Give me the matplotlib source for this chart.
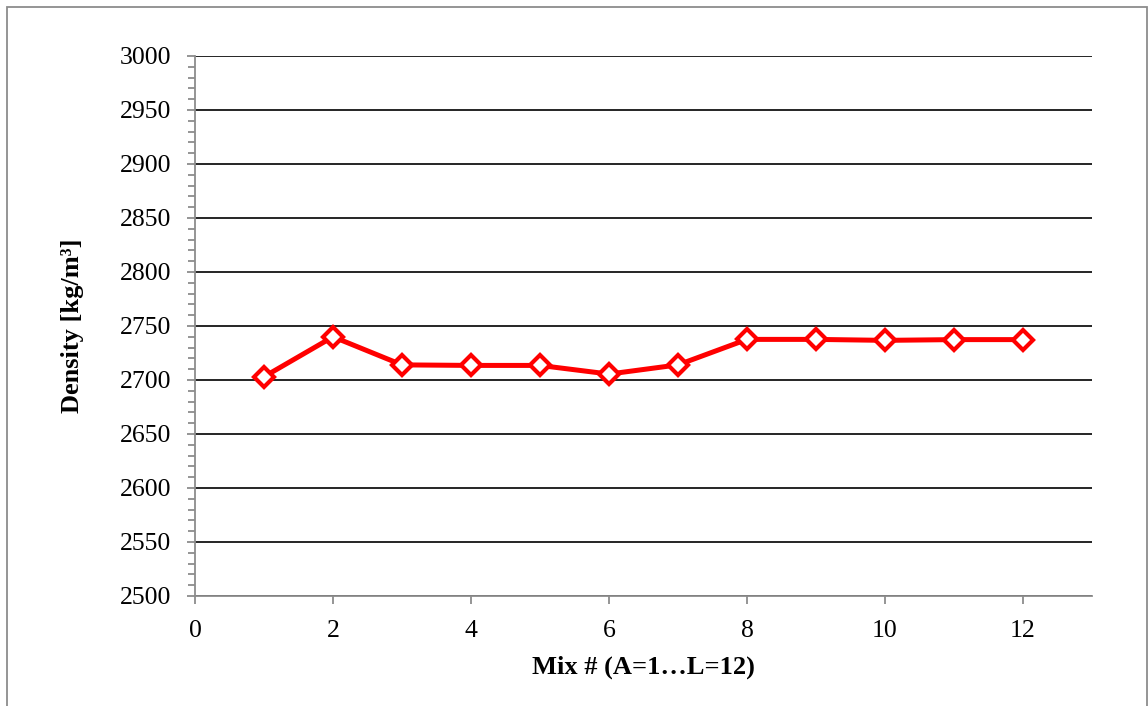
import numpy as np
import matplotlib.pyplot as plt
from matplotlib.ticker import MultipleLocator
from matplotlib.patches import Rectangle

# Density of each mix
mix = [1, 2, 3, 4, 5, 6, 7, 8, 9, 10, 11, 12]
density = [2703, 2740, 2714, 2713.5, 2713.5, 2705.5, 2714, 2737.6, 2737.6, 2736.7, 2737.4, 2737.4]

x_ticks = [0, 2, 4, 6, 8, 10, 12]
y_ticks = [2500, 2550, 2600, 2650, 2700, 2750, 2800, 2850, 2900, 2950, 3000]

plt.rcParams['font.family'] = ['Liberation Serif', 'DejaVu Serif']

fig = plt.figure(figsize=(11.48, 7.06), dpi=100)
ax = fig.add_axes([195/1148, 1 - 596/706, (1092 - 195)/1148, (596 - 56)/706])

# grey frame round the whole chart
fig.patches.append(Rectangle((7/1148, -0.01), (1147 - 7)/1148, 1 - 7/706 + 0.01,
                             transform=fig.transFigure, fill=False,
                             edgecolor='#8c8c8c', linewidth=1.3))

ax.plot(mix, density, color='#ff0000', linewidth=3.6, marker='D', markersize=10,
        markerfacecolor='white', markeredgecolor='#ff0000', markeredgewidth=3,
        zorder=3)

ax.set_xlim(0, 13)
ax.set_ylim(2500, 3000)
ax.set_xticks(x_ticks)
ax.set_yticks(y_ticks)
ax.yaxis.set_minor_locator(MultipleLocator(10))

ax.grid(axis='y', which='major', color='black', linewidth=1.2)
ax.set_axisbelow(True)

for side in ['top', 'right']:
    ax.spines[side].set_visible(False)
for side in ['left', 'bottom']:
    ax.spines[side].set_color('#8c8c8c')
    ax.spines[side].set_linewidth(1.3)

ax.tick_params(axis='both', which='major', length=6, width=1.3, color='#8c8c8c',
               labelsize=18.5, pad=11)
ax.tick_params(axis='y', which='minor', length=5, width=1.3, color='#8c8c8c')

ax.set_xlabel("Mix # (A=1…L=12)", fontsize=19, fontweight='bold', labelpad=10)
ax.set_ylabel("Density [kg/m³]", fontsize=19, fontweight='bold', labelpad=26)

fig.savefig("out.png", dpi=100)
